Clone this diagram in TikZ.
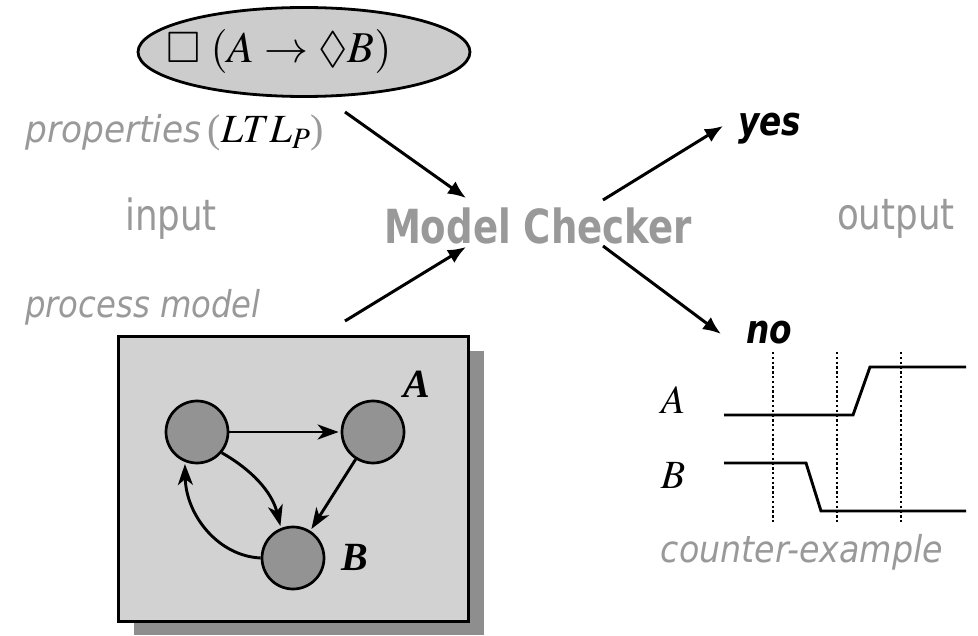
\documentclass[tikz,border=0pt]{standalone}
\usepackage{amssymb}
\usepackage{mathptmx}
\usepackage{fontspec}
\setmainfont{Liberation Serif}
\setsansfont{DejaVu Sans}
\usetikzlibrary{arrows.meta,shapes.geometric}

\definecolor{txtgray}{HTML}{999999}
\definecolor{panelfill}{HTML}{D2D2D2}
\definecolor{shadowgray}{HTML}{8E8E8E}
\definecolor{statefill}{HTML}{939393}
\definecolor{propfill}{HTML}{CCCCCC}

\tikzset{
  flow/.style={line width=3pt,-{Latex[length=18pt,width=15pt]}},
  trans/.style={line width=2.9pt,-{Stealth[length=21pt,width=15pt,inset=6pt]},shorten >=2pt},
  state/.style={circle,draw=black,line width=2.7pt,fill=statefill,minimum size=62pt,inner sep=0pt},
  graytext/.style={text=txtgray,font=\sffamily\fontsize{43}{50}\selectfont,inner sep=0pt,xscale=0.83},
  caption/.style={text=txtgray,font=\sffamily\itshape\fontsize{37}{44}\selectfont,inner sep=0pt,xscale=0.9},
  verdict/.style={text=black,font=\sffamily\bfseries\itshape\fontsize{40}{48}\selectfont,inner sep=0pt,xscale=0.82},
  sig/.style={line width=2.9pt},
  tick/.style={line width=2.8pt,dash pattern=on 2.4pt off 2.4pt},
}

\begin{document}
\begin{tikzpicture}[x=1pt,y=-1pt]
\useasboundingbox (0,0) rectangle (978,636);

% ---- property (input 1) ----
\node[ellipse,draw=black,line width=2.8pt,fill=propfill,minimum width=332pt,minimum height=89pt,inner sep=0pt] (prop) at (304,52) {};
\node[inner sep=0pt,font=\fontsize{44}{52}\selectfont] (formula) at (279,52) {$\square\;(A \rightarrow \Diamond B)$};
\node[anchor=base west,inner sep=0pt] (proplbl) at (25,143)
  {\scalebox{0.93}[1]{\textcolor{txtgray}{\sffamily\itshape\fontsize{37}{44}\selectfont properties}}\hspace{6pt}%
   {\fontsize{40}{46}\selectfont\textcolor{txtgray}{(}$LTL_P$\textcolor{txtgray}{)}}};

% ---- central tool ----
\node[text=txtgray,font=\sffamily\bfseries\fontsize{47}{56}\selectfont,inner sep=0pt,xscale=0.79] (mc) at (538,226) {Model Checker};
\node[graytext] (inlbl) at (171,219) {input};
\node[graytext] (outlbl) at (896,219) {output};

% ---- arrows into and out of the checker ----
\coordinate (p1) at (345,112);
\coordinate (p2) at (466,198);
\coordinate (m1) at (345,321);
\coordinate (m2) at (466,247);
\coordinate (y1) at (603,200);
\coordinate (y2) at (723,126);
\coordinate (n1) at (603,246);
\coordinate (n2) at (721,334);
\draw[flow] (p1) -- (p2);
\draw[flow] (m1) -- (m2);
\draw[flow] (y1) -- (y2);
\draw[flow] (n1) -- (n2);

\node[verdict,anchor=base west] (yes) at (738,136) {yes};
\node[verdict,anchor=base west] (no) at (746,344) {no};

% ---- process model (input 2) ----
\node[caption,anchor=base west,xscale=0.97] (pmlbl) at (25,318) {process model};
\fill[shadowgray] (134,351) rectangle (484,635);
\draw[line width=3pt,fill=panelfill] (118,337) rectangle (468,621);

\node[state] (s1) at (197,432) {};
\node[state] (s2) at (373,432) {};
\node[state] (s3) at (293,558) {};
\node[font=\bfseries\itshape\fontsize{40}{46}\selectfont,inner sep=0pt] (la) at (417,384) {A};
\node[font=\bfseries\itshape\fontsize{40}{46}\selectfont,inner sep=0pt] (lb) at (355,557) {B};

\draw[trans] (s1) -- (s2);
\draw[trans] (s2) -- (s3);
\draw[trans] (s1.-40) .. controls (252,470) and (272,492) .. (s3.112);
\draw[trans] (s3.180) .. controls (218,556) and (186,515) .. (s1.-112);

% ---- counter-example trace ----
\node[inner sep=0pt,font=\fontsize{40}{46}\selectfont] (ta) at (673,400) {$A$};
\node[inner sep=0pt,font=\fontsize{40}{46}\selectfont] (tb) at (673,476) {$B$};
\coordinate (a0) at (724,415);
\coordinate (a1) at (853,415);
\coordinate (a2) at (870,367);
\coordinate (a3) at (966,367);
\coordinate (b0) at (724,463);
\coordinate (b1) at (806,463);
\coordinate (b2) at (821,511);
\coordinate (b3) at (966,511);
\draw[sig] (a0) -- (a1) -- (a2) -- (a3);
\draw[sig] (b0) -- (b1) -- (b2) -- (b3);
\foreach \x/\n in {773/t1,837/t2,901/t3}{
  \coordinate (\n top) at (\x,352);
  \coordinate (\n bot) at (\x,524);
  \draw[tick] (\n top) -- (\n bot);
}
\node[caption] (celbl) at (802,552) {counter-example};
\end{tikzpicture}
\end{document}
